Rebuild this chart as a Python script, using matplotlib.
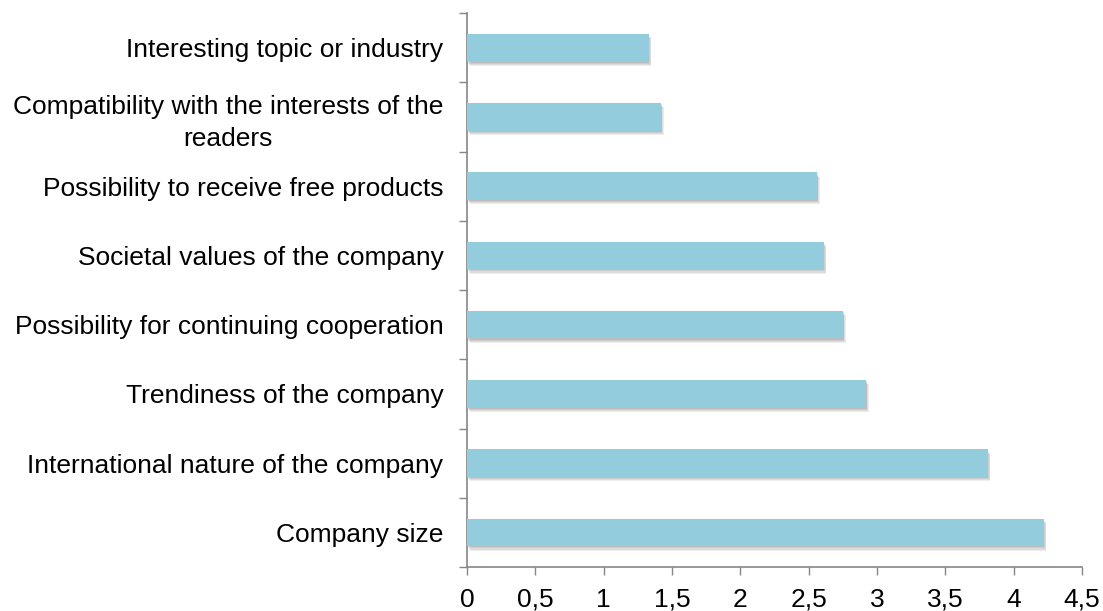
import matplotlib
matplotlib.use("Agg")
import matplotlib.pyplot as plt
import matplotlib.patheffects as pe
import numpy as np

plt.rcParams['font.family'] = ['Liberation Sans', 'DejaVu Sans']

# Factors, listed from bottom to top
categories = [
    "Company size",
    "International nature of the company",
    "Trendiness of the company",
    "Possibility for continuing cooperation",
    "Societal values of the company",
    "Possibility to receive free products",
    "Compatibility with the interests of the\nreaders",
    "Interesting topic or industry",
]
scores = [4.22, 3.81, 2.92, 2.75, 2.61, 2.56, 1.42, 1.33]
x_ticks = [0, 0.5, 1, 1.5, 2, 2.5, 3, 3.5, 4, 4.5]
x_tick_labels = ["0", "0,5", "1", "1,5", "2", "2,5", "3", "3,5", "4", "4,5"]

bar_color = "#93CDDD"
axis_color = "#868686"

fig = plt.figure(figsize=(11.03, 6.11), dpi=100)
ax = fig.add_axes([0.4234, 0.072, 0.5576, 0.9067])

y = np.arange(len(categories))
bars = ax.barh(y, scores, height=0.4, color=bar_color, zorder=3)

# soft drop shadow built from a few faint offset copies
shadow = [
    pe.SimplePatchShadow(offset=(d * 0.6, -d), shadow_rgbFace="#000000", alpha=0.07)
    for d in (0.8, 1.6, 2.4, 3.2)
]
for b in bars:
    b.set_path_effects(shadow + [pe.Normal()])

ax.set_xlim(0, 4.5)
ax.set_ylim(-0.5, len(categories) - 0.5)

ax.set_xticks(x_ticks)
ax.set_xticklabels(x_tick_labels, fontsize=19, color="#000000")

# category labels sit between boundary tick marks
ax.set_yticks(y)
ax.set_yticklabels(categories, fontsize=19, color="#000000",
                   multialignment="center", linespacing=1.4)
ax.set_yticks(np.arange(-0.5, len(categories), 1.0), minor=True)
ax.tick_params(axis="y", which="major", length=0, pad=17)
ax.tick_params(axis="y", which="minor", length=6, width=1.0, color=axis_color, direction="out")
ax.tick_params(axis="x", which="major", length=6, width=1.0, color=axis_color, direction="out", pad=9)

for s in ("top", "right"):
    ax.spines[s].set_visible(False)
for s in ("left", "bottom"):
    ax.spines[s].set_color(axis_color)
    ax.spines[s].set_linewidth(1.2)

fig.savefig("out.png", dpi=100, facecolor="white")
